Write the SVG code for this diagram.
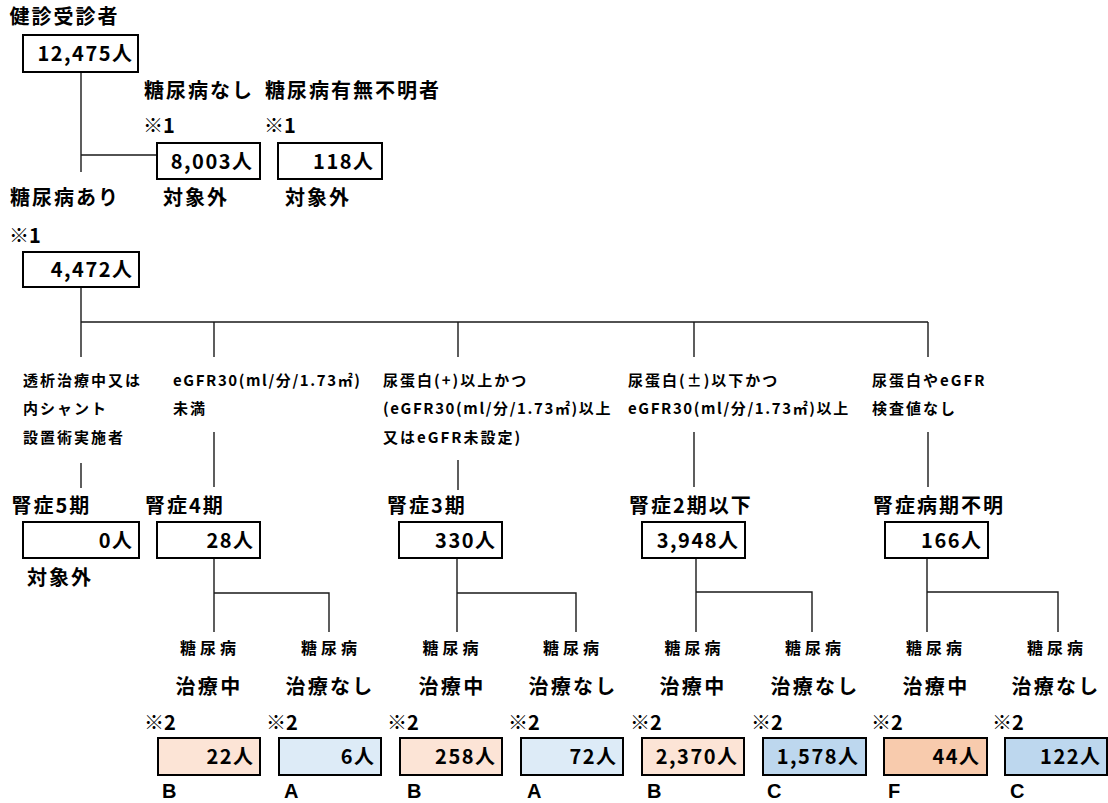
<svg xmlns="http://www.w3.org/2000/svg" width="1108" height="803" viewBox="0 0 1108 803">
<style>
text{font-family:"Noto Sans CJK JP","Noto Sans",sans-serif;font-weight:700;fill:#000}
.t{font-size:20px;letter-spacing:2px}
.k{font-size:20px;letter-spacing:0}
.n{font-size:20px;letter-spacing:1.5px;text-anchor:end}
.s{font-size:15px;letter-spacing:2px}
.sl{letter-spacing:1.6px}
.d{font-size:16px;letter-spacing:4px;text-anchor:middle}
.c{font-size:20px;letter-spacing:2.3px;text-anchor:middle}
.g{font-family:"Liberation Sans",Arial,sans-serif;font-size:20px}
.box{fill:#fff;stroke:#000;stroke-width:2}
.pk{fill:#FCE4D6}
.lb{fill:#DDEBF7}
.bl{fill:#BDD7EE}
.or{fill:#F8CBAD}
.ln{fill:none;stroke:#1a1a1a;stroke-width:1.4}
</style>
<rect width="1108" height="803" fill="#fff"/>
<g id="connectors" class="ln">
<path d="M81 72V172M81 155H157"/>
<path d="M81 287V357M81 322H928M214 322V357M458 322V357M694 322V357M928 322V357"/>
<path d="M81 463V488M214 432V487M458 460V490M694 432V487M928 432V487"/>
<path d="M214 558V632M214 593H329V632"/>
<path d="M457 558V632M457 593H576V632"/>
<path d="M696 558V632M696 592H812V632"/>
<path d="M927 558V632M927 592H1058V632"/>
</g>
<g id="n-total">
<text class="t" x="9.5" y="24">健診受診者</text>
<rect class="box" x="23" y="35" width="115" height="37"/>
<text class="n" x="133.5" y="61">12,475人</text>
</g>
<g id="n-nodm">
<text class="t" x="144" y="98">糖尿病なし</text>
<text class="k" x="143" y="133">※1</text>
<rect class="box" x="157" y="143" width="103" height="36"/>
<text class="n" x="253.5" y="168.5">8,003人</text>
<text class="t" x="163" y="205">対象外</text>
</g>
<g id="n-unknown">
<text class="t" x="265" y="98">糖尿病有無不明者</text>
<text class="k" x="264" y="133">※1</text>
<rect class="box" x="278" y="143" width="104" height="36"/>
<text class="n" x="374.5" y="168.5">118人</text>
<text class="t" x="285" y="205">対象外</text>
</g>
<g id="n-dm">
<text class="t" x="10" y="205">糖尿病あり</text>
<text class="k" x="9" y="243">※1</text>
<rect class="box" x="23" y="252" width="116" height="35"/>
<text class="n" x="133.5" y="277">4,472人</text>
</g>
<g id="c-1">
<text class="s" x="23" y="385.7">透析治療中又は</text>
<text class="s" x="23" y="413.7">内シャント</text>
<text class="s" x="23" y="442.7">設置術実施者</text>
</g>
<g id="c-2">
<text class="s sl" x="173" y="385.7">eGFR30(ml/分/1.73㎡)</text>
<text class="s" x="173" y="413.7">未満</text>
</g>
<g id="c-3">
<text class="s" x="383" y="385.7">尿蛋白(+)以上かつ</text>
<text class="s sl" x="383" y="413.7">(eGFR30(ml/分/1.73㎡)以上</text>
<text class="s" x="383" y="442.7">又はeGFR未設定)</text>
</g>
<g id="c-4">
<text class="s" x="628" y="385.7">尿蛋白(±)以下かつ</text>
<text class="s sl" x="628" y="413.7">eGFR30(ml/分/1.73㎡)以上</text>
</g>
<g id="c-5">
<text class="s" x="872" y="385.7">尿蛋白やeGFR</text>
<text class="s" x="872" y="413.7">検査値なし</text>
</g>
<g id="n-s5">
<text class="t" x="11.5" y="512.6">腎症5期</text>
<rect class="box" x="23" y="522" width="116" height="36"/>
<text class="n" x="133.5" y="547.6">0人</text>
<text class="t" x="27" y="584.6">対象外</text>
</g>
<g id="n-s4">
<text class="t" x="145" y="512.6">腎症4期</text>
<rect class="box" x="157" y="522" width="103" height="36"/>
<text class="n" x="254.5" y="547.6">28人</text>
</g>
<g id="n-s3">
<text class="t" x="387" y="512.6">腎症3期</text>
<rect class="box" x="399" y="522" width="103" height="36"/>
<text class="n" x="496.5" y="547.6">330人</text>
</g>
<g id="n-s2">
<text class="t" x="629" y="512.6">腎症2期以下</text>
<rect class="box" x="642" y="522" width="103" height="36"/>
<text class="n" x="739.5" y="547.6">3,948人</text>
</g>
<g id="n-sx">
<text class="t" x="873" y="512.6">腎症病期不明</text>
<rect class="box" x="885" y="522" width="103" height="36"/>
<text class="n" x="982.5" y="547.6">166人</text>
</g>
<g id="n-s4-tx">
<text class="d" x="210" y="654">糖尿病</text>
<text class="c" x="209" y="693.6">治療中</text>
<text class="k" x="144" y="729.6">※2</text>
<rect class="box pk" x="158" y="738" width="102" height="37"/>
<text class="n" x="254.5" y="764">22人</text>
<text class="g" x="162" y="798">B</text>
</g>
<g id="n-s4-no">
<text class="d" x="331" y="654">糖尿病</text>
<text class="c" x="330" y="693.6">治療なし</text>
<text class="k" x="266" y="729.6">※2</text>
<rect class="box lb" x="279" y="738" width="102" height="37"/>
<text class="n" x="375.5" y="764">6人</text>
<text class="g" x="284" y="798">A</text>
</g>
<g id="n-s3-tx">
<text class="d" x="452.5" y="654">糖尿病</text>
<text class="c" x="452" y="693.6">治療中</text>
<text class="k" x="387" y="729.6">※2</text>
<rect class="box pk" x="400" y="738" width="102" height="37"/>
<text class="n" x="496.5" y="764">258人</text>
<text class="g" x="407" y="798">B</text>
</g>
<g id="n-s3-no">
<text class="d" x="573" y="654">糖尿病</text>
<text class="c" x="573" y="693.6">治療なし</text>
<text class="k" x="508" y="729.6">※2</text>
<rect class="box lb" x="521" y="738" width="102" height="37"/>
<text class="n" x="617.5" y="764">72人</text>
<text class="g" x="527" y="798">A</text>
</g>
<g id="n-s2-tx">
<text class="d" x="694.5" y="654">糖尿病</text>
<text class="c" x="693" y="693.6">治療中</text>
<text class="k" x="630" y="729.6">※2</text>
<rect class="box pk" x="642" y="738" width="102" height="37"/>
<text class="n" x="738.5" y="764">2,370人</text>
<text class="g" x="647" y="798">B</text>
</g>
<g id="n-s2-no">
<text class="d" x="815" y="654">糖尿病</text>
<text class="c" x="815" y="693.6">治療なし</text>
<text class="k" x="751" y="729.6">※2</text>
<rect class="box bl" x="763" y="738" width="103" height="37"/>
<text class="n" x="859.5" y="764">1,578人</text>
<text class="g" x="767" y="798">C</text>
</g>
<g id="n-sx-tx">
<text class="d" x="936" y="654">糖尿病</text>
<text class="c" x="936" y="693.6">治療中</text>
<text class="k" x="871" y="729.6">※2</text>
<rect class="box or" x="884" y="738" width="103" height="37"/>
<text class="n" x="980.5" y="764">44人</text>
<text class="g" x="888" y="798">F</text>
</g>
<g id="n-sx-no">
<text class="d" x="1057" y="654">糖尿病</text>
<text class="c" x="1056" y="693.6">治療なし</text>
<text class="k" x="992" y="729.6">※2</text>
<rect class="box bl" x="1005" y="738" width="102" height="37"/>
<text class="n" x="1101.5" y="764">122人</text>
<text class="g" x="1010" y="798">C</text>
</g>
</svg>
